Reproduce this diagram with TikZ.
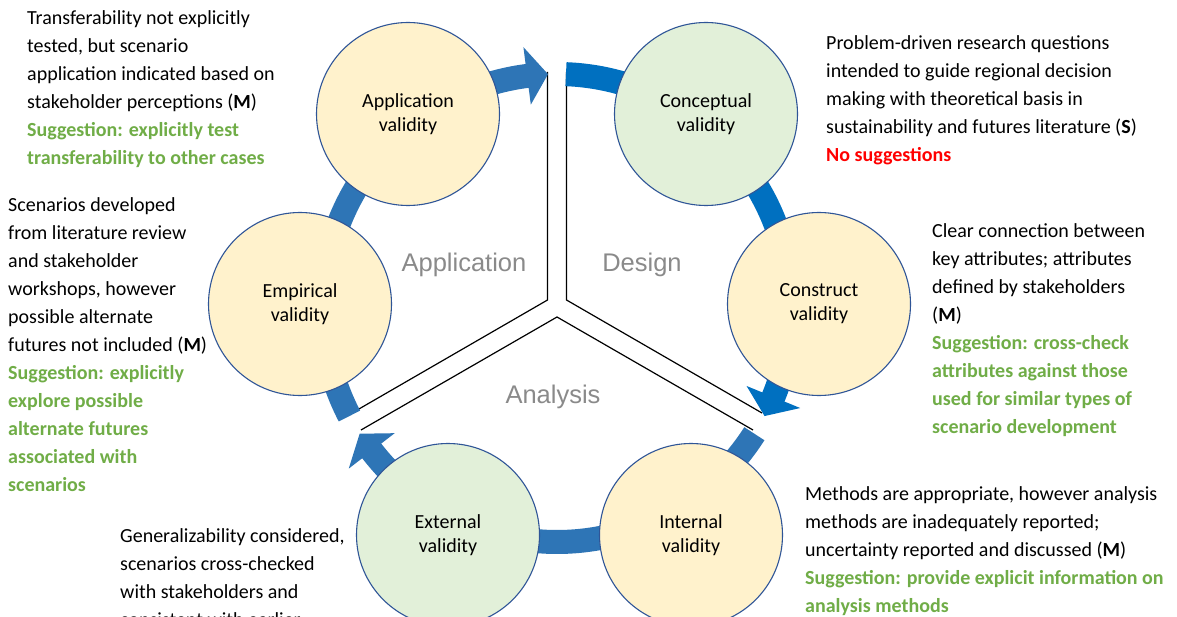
\documentclass[tikz,border=0pt]{standalone}
\usepackage{fontspec}
\setmainfont{Carlito}
\newfontfamily\arialf{Liberation Sans}
\definecolor{bandA}{HTML}{0070C0}
\definecolor{bandB}{HTML}{2E75B6}
\definecolor{cyel}{HTML}{FFF2CC}
\definecolor{cgrn}{HTML}{E2F0D9}
\definecolor{cedge}{HTML}{2F5597}
\definecolor{sugg}{HTML}{70AD47}
\definecolor{nosugg}{HTML}{FF0000}
\definecolor{zone}{HTML}{8A8A8A}
\newcommand{\lns}[1]{\vtop{\baselineskip=28pt\lineskiplimit=-20pt\lineskip=0pt #1}}
\newcommand{\sg}[1]{\hbox{\color{sugg}\bfseries #1}}
\newcommand{\tline}[1]{\hbox{#1}}
\tikzset{
  circ/.style={circle, minimum size=183pt, inner sep=0pt, draw=cedge, line width=1.1pt, align=center, font=\fontsize{20}{24}\selectfont},
  yel/.style={circ, fill=cyel},
  grn/.style={circ, fill=cgrn},
  txt/.style={anchor=base west, inner sep=0pt, font=\fontsize{20}{28}\selectfont},
  zonelbl/.style={anchor=base, inner sep=0pt, text=zone, font=\arialf\fontsize{25.5}{30}\selectfont},
  divider/.style={draw=black, line width=1.2pt},
  band/.style={line width=24pt},
}
\begin{document}
\begin{tikzpicture}[x=1pt,y=-1pt]
\useasboundingbox (0,0) rectangle (1177,617);
\fill[white] (0,0) rectangle (1177,617);
\coordinate (O) at (557,308);
% divider lines
\coordinate (ul1) at (547.5,72);
\coordinate (ul2) at (547.5,300);
\coordinate (ul3) at (352,413);
\coordinate (ur1) at (566.5,72);
\coordinate (ur2) at (566.5,300);
\coordinate (ur3) at (762,413);
\coordinate (b1) at (361,430);
\coordinate (b2) at (557,317);
\coordinate (b3) at (753,430);
\draw[divider] (ul1) -- (ul2) -- (ul3);
\draw[divider] (ur1) -- (ur2) -- (ur3);
\draw[divider] (b1) -- (b2) -- (b3);
% ring bands
\draw[band, bandA] ([shift={(-87.8:234)}]O) arc[start angle=-87.8, end angle=22.7, radius=234];
\fill[bandA] ([shift={(22.36:263)}]O) -- ([shift={(27.5:234)}]O) -- ([shift={(22.36:205)}]O) -- cycle;
\draw[band, bandB] ([shift={(32.5:234)}]O) arc[start angle=32.5, end angle=142.7, radius=234];
\fill[bandB] ([shift={(142.36:263)}]O) -- ([shift={(147.5:234)}]O) -- ([shift={(142.36:205)}]O) -- cycle;
\draw[band, bandB] ([shift={(152.5:234)}]O) arc[start angle=152.5, end angle=263, radius=234];
\fill[bandB] ([shift={(262.66:263)}]O) -- ([shift={(267.8:234)}]O) -- ([shift={(262.66:205)}]O) -- cycle;
% circles
\node[yel] (app) at (408,114) {Application\\validity};
\node[grn] (con) at (706,114) {Conceptual\\validity};
\node[yel] (cst) at (819,304) {Construct\\validity};
\node[yel] (int) at (691,535) {Internal\\validity};
\node[grn] (ext) at (448,535) {External\\validity};
\node[yel] (emp) at (300,304) {Empirical\\validity};
% zone labels
\node[zonelbl] (zapp) at (464,272) {Application};
\node[zonelbl] (zdes) at (642,272) {Design};
\node[zonelbl] (zana) at (553,403) {Analysis};
% annotation texts
\node[txt] (t1) at (27,25) {\lns{\tline{Transferability not explicitly}\tline{tested, but scenario}\tline{application indicated based on}\tline{stakeholder perceptions (\textbf{M})}\sg{Suggestion: explicitly test}\sg{transferability to other cases}}};
\node[txt] (t2) at (826,50) {\lns{\tline{Problem-driven research questions}\tline{intended to guide regional decision}\tline{making with theoretical basis in}\tline{sustainability and futures literature (\textbf{S})}\hbox{\color{nosugg}\bfseries No suggestions}}};
\node[txt] (t3) at (8,212) {\lns{\tline{Scenarios developed}\tline{from literature review}\tline{and stakeholder}\tline{workshops, however}\tline{possible alternate}\tline{futures not included (\textbf{M})}\sg{Suggestion: explicitly}\sg{explore possible}\sg{alternate futures}\sg{associated with}\sg{scenarios}}};
\node[txt] (t4) at (932,238) {\lns{\tline{Clear connection between}\tline{key attributes; attributes}\tline{defined by stakeholders}\tline{(\textbf{M})}\sg{Suggestion: cross-check}\sg{attributes against those}\sg{used for similar types of}\sg{scenario development}}};
\node[txt] (t5) at (120,542) {\lns{\tline{Generalizability considered,}\tline{scenarios cross-checked}\tline{with stakeholders and}\tline{consistent with earlier}}};
\node[txt] (t6) at (805,500) {\lns{\tline{Methods are appropriate, however analysis}\tline{methods are inadequately reported;}\tline{uncertainty reported and discussed (\textbf{M})}\sg{Suggestion: provide explicit information on}\sg{analysis methods}}};
\end{tikzpicture}
\end{document}
